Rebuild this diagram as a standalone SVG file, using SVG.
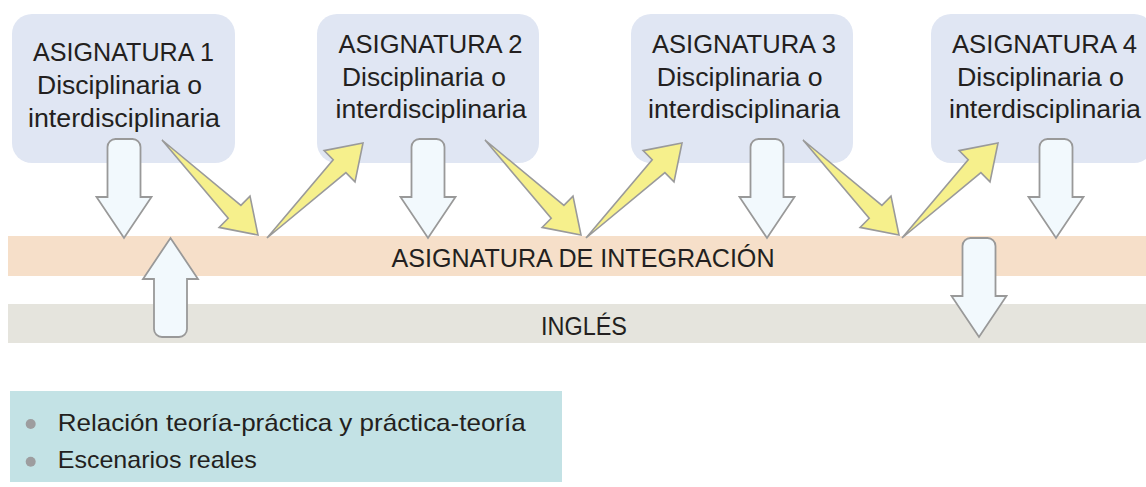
<svg xmlns="http://www.w3.org/2000/svg" xmlns:xlink="http://www.w3.org/1999/xlink" width="1146" height="487" viewBox="0 0 1146 487">
  <style>
    .box { fill: #E0E6F3; }
    .t { font-family: "Liberation Sans", Arial, sans-serif; font-size: 25px; fill: #231F20; text-anchor: middle; }
    .tl { font-family: "Liberation Sans", Arial, sans-serif; font-size: 24px; fill: #231F20; }
    .ya { fill: #F6F08C; stroke: #9A9A9A; stroke-width: 1.6; stroke-linejoin: miter; }
    .wa { fill: #F2F9FD; stroke: #999999; stroke-width: 1.8; stroke-linejoin: miter; }
    .bullet { fill: #9D9D9F; }
  </style>
  <defs>
    <path id="yArrow" d="M0,0 L78.9,65.4 L88,56.2 L96,95 L57.1,87.4 L66.2,78.2 Z"/>
    <path id="wArrow" d="M-16.5,8 a8,8 0 0 1 8,-8 h17 a8,8 0 0 1 8,8 V58 H27.5 L0,99 L-27.5,58 H-16.5 Z"/>
  </defs>

  <rect width="1146" height="487" fill="#FFFFFF"/>

  <g id="box1">
    <rect class="box" x="12" y="14" width="223" height="149" rx="20"/>
    <text class="t" x="123.5" y="61" textLength="181" lengthAdjust="spacingAndGlyphs">ASIGNATURA 1</text>
    <text class="t" x="119.5" y="94" textLength="165" lengthAdjust="spacingAndGlyphs">Disciplinaria o</text>
    <text class="t" x="124" y="127" textLength="192" lengthAdjust="spacingAndGlyphs">interdisciplinaria</text>
  </g>

  <g id="box2">
    <rect class="box" x="317" y="14" width="222" height="149" rx="20"/>
    <text class="t" x="430.5" y="53" textLength="184" lengthAdjust="spacingAndGlyphs">ASIGNATURA 2</text>
    <text class="t" x="424" y="86" textLength="164" lengthAdjust="spacingAndGlyphs">Disciplinaria o</text>
    <text class="t" x="431" y="118" textLength="191" lengthAdjust="spacingAndGlyphs">interdisciplinaria</text>
  </g>

  <g id="box3">
    <rect class="box" x="631" y="14" width="222" height="149" rx="20"/>
    <text class="t" x="744" y="53" textLength="184" lengthAdjust="spacingAndGlyphs">ASIGNATURA 3</text>
    <text class="t" x="739.7" y="86" textLength="166" lengthAdjust="spacingAndGlyphs">Disciplinaria o</text>
    <text class="t" x="744" y="118" textLength="192" lengthAdjust="spacingAndGlyphs">interdisciplinaria</text>
  </g>

  <g id="box4">
    <rect class="box" x="931" y="14" width="223" height="149" rx="20"/>
    <text class="t" x="1044.5" y="53" textLength="185" lengthAdjust="spacingAndGlyphs">ASIGNATURA 4</text>
    <text class="t" x="1040.5" y="86" textLength="167" lengthAdjust="spacingAndGlyphs">Disciplinaria o</text>
    <text class="t" x="1045" y="118" textLength="192" lengthAdjust="spacingAndGlyphs">interdisciplinaria</text>
  </g>

  <g id="band-integracion">
    <rect x="8" y="236" width="1138" height="40" fill="#F6DFC9"/>
    <text class="t" x="583" y="267" textLength="383" lengthAdjust="spacingAndGlyphs">ASIGNATURA DE INTEGRACIÓN</text>
  </g>

  <g id="band-ingles">
    <rect x="8" y="304" width="1138" height="39" fill="#E5E4DD"/>
    <text class="t" x="584" y="335" textLength="86" lengthAdjust="spacingAndGlyphs">INGLÉS</text>
  </g>

  <g id="list">
    <rect x="10" y="391" width="552" height="91" fill="#C3E2E5"/>
    <circle class="bullet" cx="30.7" cy="424" r="5"/>
    <circle class="bullet" cx="30.7" cy="461.7" r="5"/>
    <text class="tl" x="57.7" y="431" textLength="468" lengthAdjust="spacingAndGlyphs">Relación teoría-práctica y práctica-teoría</text>
    <text class="tl" x="57.7" y="468" textLength="199" lengthAdjust="spacingAndGlyphs">Escenarios reales</text>
  </g>

  <g id="connectors">
    <use xlink:href="#wArrow" class="wa" transform="translate(124,139)"/>
    <use xlink:href="#wArrow" class="wa" transform="translate(428,139)"/>
    <use xlink:href="#wArrow" class="wa" transform="translate(767,139)"/>
    <use xlink:href="#wArrow" class="wa" transform="translate(1056,139)"/>
    <use xlink:href="#wArrow" class="wa" transform="translate(170.5,337) scale(1,-1)"/>
    <use xlink:href="#wArrow" class="wa" transform="translate(979,238)"/>

    <use xlink:href="#yArrow" class="ya" transform="translate(162,140)"/>
    <use xlink:href="#yArrow" class="ya" transform="translate(267,238) scale(1,-1)"/>
    <use xlink:href="#yArrow" class="ya" transform="translate(485,140)"/>
    <use xlink:href="#yArrow" class="ya" transform="translate(586,238) scale(1,-1)"/>
    <use xlink:href="#yArrow" class="ya" transform="translate(803,140)"/>
    <use xlink:href="#yArrow" class="ya" transform="translate(902,238) scale(1,-1)"/>
  </g>
</svg>
